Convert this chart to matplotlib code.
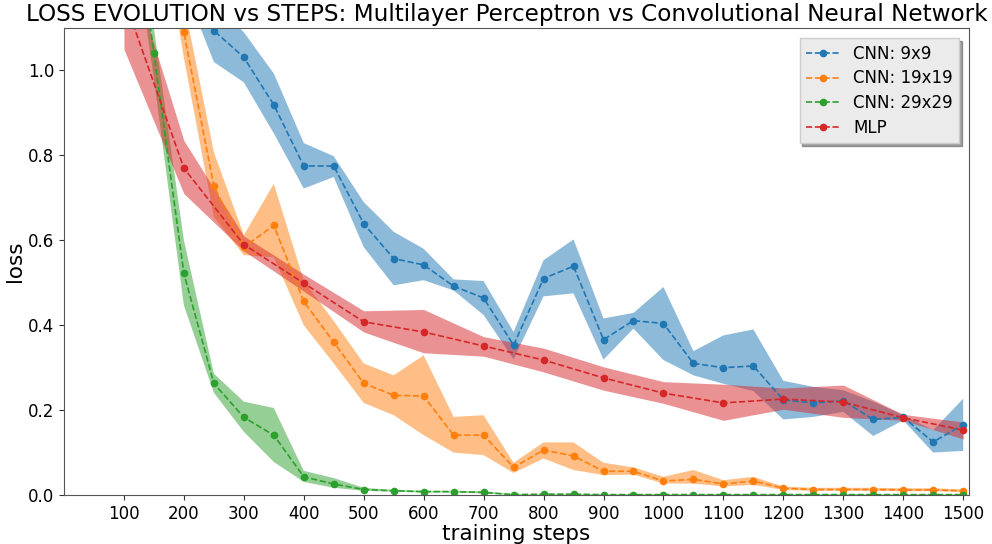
import matplotlib.pyplot as plt
import numpy as np

# training steps at which each model was evaluated
steps_cnn = np.arange(100, 1501, 50)
steps_mlp = np.arange(100, 1501, 100)

# CNN 9x9: mean loss and spread band
cnn9_mean = [1.55, 1.42, 1.28, 1.094, 1.031, 0.919, 0.775, 0.775, 0.639, 0.557, 0.542, 0.492,
             0.464, 0.353, 0.510, 0.539, 0.366, 0.411, 0.404, 0.310, 0.300, 0.304, 0.224,
             0.217, 0.222, 0.178, 0.183, 0.125, 0.166]
cnn9_low = [1.45, 1.33, 1.20, 1.02, 0.972, 0.852, 0.722, 0.749, 0.584, 0.494, 0.506, 0.482,
            0.424, 0.320, 0.468, 0.475, 0.319, 0.392, 0.318, 0.282, 0.262, 0.245, 0.178,
            0.184, 0.196, 0.139, 0.176, 0.100, 0.104]
cnn9_high = [1.65, 1.51, 1.36, 1.16, 1.09, 0.993, 0.829, 0.798, 0.690, 0.620, 0.580, 0.508,
             0.504, 0.384, 0.553, 0.602, 0.416, 0.429, 0.490, 0.339, 0.376, 0.390, 0.269,
             0.255, 0.247, 0.220, 0.188, 0.153, 0.227]

# CNN 19x19
cnn19_mean = [1.95, 1.55, 1.09, 0.728, 0.584, 0.635, 0.456, 0.360, 0.263, 0.235, 0.233, 0.141,
              0.141, 0.065, 0.106, 0.092, 0.056, 0.056, 0.033, 0.037, 0.026, 0.033, 0.016,
              0.013, 0.013, 0.013, 0.012, 0.012, 0.010]
cnn19_low = [1.85, 1.45, 1.03, 0.655, 0.565, 0.560, 0.400, 0.310, 0.217, 0.188, 0.141, 0.100,
             0.094, 0.052, 0.086, 0.059, 0.047, 0.048, 0.027, 0.027, 0.020, 0.024, 0.012,
             0.010, 0.010, 0.010, 0.009, 0.009, 0.007]
cnn19_high = [2.05, 1.65, 1.16, 0.808, 0.612, 0.733, 0.505, 0.410, 0.310, 0.282, 0.329, 0.184,
              0.188, 0.076, 0.124, 0.124, 0.076, 0.065, 0.043, 0.059, 0.035, 0.043, 0.020,
              0.017, 0.017, 0.017, 0.016, 0.016, 0.013]

# CNN 29x29
cnn29_mean = [1.55, 1.041, 0.522, 0.263, 0.183, 0.141, 0.043, 0.026, 0.013, 0.010, 0.008, 0.008,
              0.006, 0.001, 0.002, 0.002, 0.001, 0.001, 0.001, 0.001, 0.001, 0.001, 0.001,
              0.001, 0.001, 0.001, 0.001, 0.001, 0.001]
cnn29_low = [1.47, 0.98, 0.447, 0.241, 0.149, 0.078, 0.031, 0.017, 0.010, 0.008, 0.006, 0.006,
             0.004, 0.000, 0.001, 0.001, 0.000, 0.000, 0.000, 0.000, 0.000, 0.000, 0.000,
             0.000, 0.000, 0.000, 0.000, 0.000, 0.000]
cnn29_high = [1.63, 1.10, 0.600, 0.286, 0.220, 0.205, 0.057, 0.040, 0.017, 0.012, 0.010, 0.010,
              0.009, 0.002, 0.003, 0.003, 0.002, 0.002, 0.002, 0.002, 0.002, 0.002, 0.002,
              0.002, 0.002, 0.002, 0.002, 0.002, 0.002]

# MLP
mlp_mean = [1.17, 0.770, 0.590, 0.499, 0.408, 0.384, 0.351, 0.318, 0.276, 0.240, 0.217, 0.226,
            0.219, 0.182, 0.153]
mlp_low = [1.05, 0.710, 0.575, 0.480, 0.384, 0.335, 0.327, 0.290, 0.247, 0.216, 0.176, 0.202,
           0.183, 0.176, 0.132]
mlp_high = [1.29, 0.835, 0.610, 0.520, 0.434, 0.437, 0.373, 0.346, 0.302, 0.267, 0.261, 0.252,
            0.259, 0.190, 0.172]

series = [
    ('CNN: 9x9', steps_cnn, cnn9_mean, cnn9_low, cnn9_high, 'tab:blue'),
    ('CNN: 19x19', steps_cnn, cnn19_mean, cnn19_low, cnn19_high, 'tab:orange'),
    ('CNN: 29x29', steps_cnn, cnn29_mean, cnn29_low, cnn29_high, 'tab:green'),
    ('MLP', steps_mlp, mlp_mean, mlp_low, mlp_high, 'tab:red'),
]

fig = plt.figure(figsize=(9.92, 5.44), dpi=100)
ax = fig.add_axes([0.0645, 0.09, 0.9125, 0.8585])

for name, x, m, lo, hi, c in series:
    ax.fill_between(x, lo, hi, color=c, alpha=0.5, linewidth=0)
    ax.plot(x, m, '--', marker='o', color=c, markersize=4.5, linewidth=1.2, label=name)

ax.set_xlim(0, 1510)
ax.set_ylim(0, 1.1)
ax.set_xticks(np.arange(100, 1501, 100))
ax.set_yticks(np.arange(0, 1.01, 0.2))
ax.tick_params(labelsize=12, colors='#333333', labelcolor='black')
for sp in ax.spines.values():
    sp.set_color('#555555')

ax.set_xlabel('training steps', fontsize=15.5, labelpad=1)
ax.set_ylabel('loss', fontsize=15.5, labelpad=2)
ax.set_title('LOSS EVOLUTION vs STEPS: Multilayer Perceptron vs Convolutional Neural Network',
             fontsize=16.65, pad=5, x=0.489)

leg = ax.legend(loc='upper right', fontsize=12, shadow=True, fancybox=False,
                facecolor='#ebebeb', edgecolor='#cccccc', framealpha=1,
                borderaxespad=0.6, labelspacing=0.4)

plt.savefig('out.png', dpi=100)
